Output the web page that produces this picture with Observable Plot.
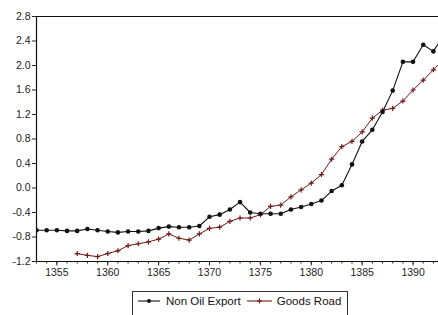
<!DOCTYPE html>
<html>
<head>
<meta charset="utf-8">
<script src="https://cdn.jsdelivr.net/npm/d3@7"></script>
<script src="https://cdn.jsdelivr.net/npm/@observablehq/plot@0.6"></script>
<style>
  html, body { margin: 0; padding: 0; background: #fff; }
  body { width: 438px; height: 315px; overflow: hidden; position: relative; font-family: "Liberation Sans", Arial, sans-serif; }
  #legend { position: absolute; left: 132px; top: 291px; width: 216px; height: 30px; border: 1px solid #333; box-sizing: border-box;
            display: flex; align-items: flex-start; padding-left: 5px; padding-top: 2px; font-size: 11.5px; color: #111; white-space: nowrap; }
  #legend .item { display: flex; align-items: center; height: 14px; line-height: 14px; }
  #legend svg { display: block; }
</style>
</head>
<body>
<div id="chart"></div>
<div id="legend"></div>
<script>
const seriesNames = ["Non Oil Export", "Goods Road"];
const seriesColors = ["#111111", "#701818"];

const exportYears = [1353,1354,1355,1356,1357,1358,1359,1360,1361,1362,1363,1364,1365,1366,1367,1368,1369,1370,1371,1372,1373,1374,1375,1376,1377,1378,1379,1380,1381,1382,1383,1384,1385,1386,1387,1388,1389,1390,1391,1392,1393];
const exportValues = [-0.69,-0.69,-0.69,-0.70,-0.70,-0.67,-0.69,-0.71,-0.725,-0.71,-0.71,-0.70,-0.655,-0.63,-0.64,-0.64,-0.62,-0.47,-0.435,-0.35,-0.23,-0.40,-0.42,-0.42,-0.42,-0.35,-0.31,-0.26,-0.205,-0.05,0.045,0.385,0.76,0.95,1.24,1.59,2.06,2.06,2.34,2.23,2.50];

const roadYears = [1357,1358,1359,1360,1361,1362,1363,1364,1365,1366,1367,1368,1369,1370,1371,1372,1373,1374,1375,1376,1377,1378,1379,1380,1381,1382,1383,1384,1385,1386,1387,1388,1389,1390,1391,1392,1393];
const roadValues = [-1.07,-1.10,-1.12,-1.07,-1.025,-0.94,-0.91,-0.88,-0.835,-0.75,-0.82,-0.85,-0.75,-0.66,-0.64,-0.545,-0.49,-0.49,-0.435,-0.30,-0.28,-0.145,-0.03,0.08,0.22,0.47,0.675,0.76,0.915,1.14,1.27,1.30,1.42,1.60,1.76,1.93,2.10];

const yTicks = [-1.2,-0.8,-0.4,0.0,0.4,0.8,1.2,1.6,2.0,2.4,2.8];
const xMajorTicks = [1355,1360,1365,1370,1375,1380,1385,1390];
const xMinorTicks = d3.range(1353, 1393);

const exportData = exportYears.map((y, i) => ({year: y, value: exportValues[i]}));
const roadData = roadYears.map((y, i) => ({year: y, value: roadValues[i]}));

const xDomain = [1353, 1392.5];
const yDomain = [-1.2, 2.8];

const plot = Plot.plot({
  width: 438,
  height: 284,
  marginTop: 16,
  marginLeft: 36,
  marginRight: 0,
  marginBottom: 23,
  style: { fontFamily: "Liberation Sans, Arial, sans-serif", fontSize: "10px", color: "#222", background: "#fff", overflow: "hidden" },
  x: { domain: xDomain, label: null },
  y: { domain: yDomain, label: null },
  marks: [
    Plot.axisY({ ticks: yTicks, tickFormat: d => d.toFixed(1), tickSize: 4, tickPadding: 2, fontSize: 10.5, label: null }),
    Plot.axisX({ ticks: xMinorTicks, tickSize: 2.5, tickFormat: () => "", label: null }),
    Plot.axisX({ ticks: xMajorTicks, tickSize: 4.5, tickPadding: 3, tickFormat: d => String(d), fontSize: 10.5, label: null }),
    Plot.ruleY([yDomain[1]], { stroke: "#111", strokeWidth: 1.2 }),
    Plot.ruleY([yDomain[0]], { stroke: "#111", strokeWidth: 1 }),
    Plot.ruleX([xDomain[0]], { stroke: "#111", strokeWidth: 1.2 }),
    Plot.line(roadData, { x: "year", y: "value", stroke: seriesColors[1], strokeWidth: 1, clip: true }),
    Plot.dot(roadData, { x: "year", y: "value", symbol: "plus", stroke: seriesColors[1], strokeWidth: 1.2, r: 1.8, clip: true }),
    Plot.line(exportData, { x: "year", y: "value", stroke: seriesColors[0], strokeWidth: 1.1, clip: true }),
    Plot.dot(exportData, { x: "year", y: "value", fill: seriesColors[0], r: 2.3, clip: true })
  ]
});
document.getElementById("chart").appendChild(plot);

// Legend
const legend = document.getElementById("legend");
const sampleWidths = [22, 25];
seriesNames.forEach((name, i) => {
  const item = document.createElement("div");
  item.className = "item";
  item.style.marginLeft = i === 0 ? "0px" : "6px";
  const ns = "http://www.w3.org/2000/svg";
  const w = sampleWidths[i];
  const s = document.createElementNS(ns, "svg");
  s.setAttribute("width", String(w));
  s.setAttribute("height", "12");
  const ln = document.createElementNS(ns, "line");
  ln.setAttribute("x1", "0"); ln.setAttribute("x2", String(w));
  ln.setAttribute("y1", "6"); ln.setAttribute("y2", "6");
  ln.setAttribute("stroke", seriesColors[i]); ln.setAttribute("stroke-width", "1.1");
  s.appendChild(ln);
  if (i === 0) {
    const c = document.createElementNS(ns, "circle");
    c.setAttribute("cx", String(w / 2)); c.setAttribute("cy", "6"); c.setAttribute("r", "2");
    c.setAttribute("fill", seriesColors[i]);
    s.appendChild(c);
  } else {
    const p = document.createElementNS(ns, "path");
    const cx = w / 2;
    p.setAttribute("d", `M${cx - 2.5},6H${cx + 2.5}M${cx},3.5V8.5`);
    p.setAttribute("stroke", seriesColors[i]); p.setAttribute("stroke-width", "1.2");
    s.appendChild(p);
  }
  item.appendChild(s);
  const t = document.createElement("span");
  t.textContent = name;
  t.style.marginLeft = i === 0 ? "6px" : "5px";
  item.appendChild(t);
  legend.appendChild(item);
});
</script>
</body>
</html>
